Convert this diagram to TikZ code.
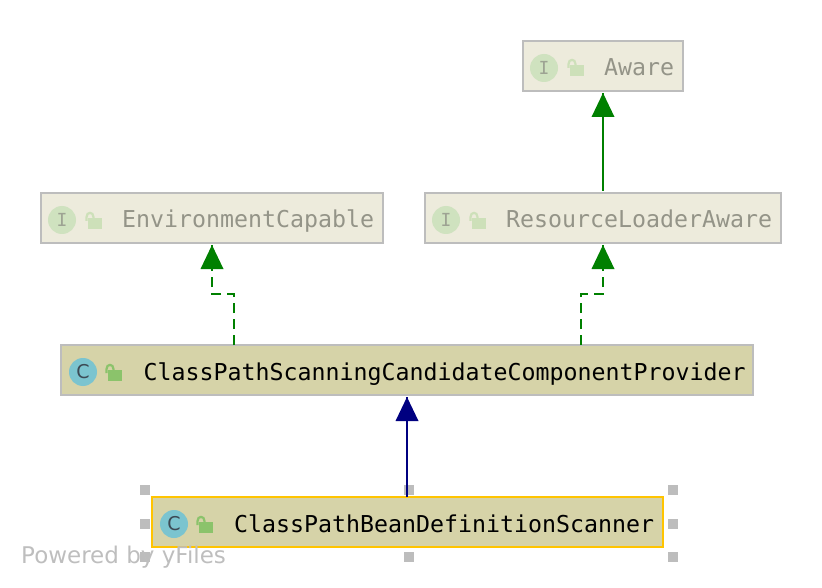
\documentclass[tikz,border=0pt]{standalone}
\usepackage{fontspec}
\setmonofont{DejaVu Sans Mono}
\setsansfont{DejaVu Sans}
\usetikzlibrary{calc}
\definecolor{ifill}{HTML}{EDEBDC}
\definecolor{cfill}{HTML}{D6D3A8}
\definecolor{bord}{HTML}{BDBDBD}
\definecolor{itext}{HTML}{949488}
\definecolor{icirc}{HTML}{CFE2BF}
\definecolor{iletter}{HTML}{9DA393}
\definecolor{ilock}{HTML}{CDE0B9}
\definecolor{ccirc}{HTML}{7BC4CF}
\definecolor{cletter}{HTML}{3C4A55}
\definecolor{clock}{HTML}{8BC36B}
\definecolor{sel}{HTML}{FFC400}
\definecolor{inh}{HTML}{008000}
\definecolor{ext}{HTML}{000080}
\definecolor{handlec}{HTML}{BDBDBD}
\definecolor{wm}{HTML}{BEBEBE}
\tikzset{
  x=1pt,y=-1pt,
  boxbase/.style={draw=bord,line width=2pt,minimum height=50pt,inner sep=0pt,anchor=north west},
  ibox/.style={boxbase,fill=ifill},
  cbox/.style={boxbase,fill=cfill},
  selbox/.style={cbox,draw=sel},
  txt/.style={anchor=base west,inner sep=0pt,font=\ttfamily\fontsize{23.25}{24}\selectfont},
  itxt/.style={txt,text=itext},
  ctxt/.style={txt,text=black},
  iicon/.style={circle,fill=icirc,minimum size=28pt,inner sep=0pt,text=iletter,font=\ttfamily\fontsize{18}{18}\selectfont},
  cicon/.style={circle,fill=ccirc,minimum size=28pt,inner sep=0pt,text=cletter,font=\sffamily\fontsize{19}{19}\selectfont},
  handle/.style={fill=handlec,minimum size=10pt,inner sep=0pt,draw=none},
  tri/.pic={\fill[pic actions] (0,0) -- (-11.5,24) -- (11.5,24) -- cycle;},
  solidg/.style={draw=inh,line width=2.4pt},
  dashg/.style={draw=inh,line width=2.4pt,dash pattern=on 10pt off 6pt},
  solidb/.style={draw=ext,line width=2.4pt},
  lockpic/.pic={
    \fill[pic actions] (0,0) rectangle (13,10);
    \draw[line width=2.2pt,pic actions,fill=none] (-1.5,3) -- (-1.5,-1) .. controls (-1.5,-6.5) and (5.5,-6.5) .. (5.5,-1) -- (5.5,1);
  }
}
\begin{document}
\begin{tikzpicture}
\useasboundingbox (0,0) rectangle (822,588);
% handles
\foreach \hx/\hy/\hn in {144.5/489.5/a,408.5/489.5/b,672.5/489.5/c,144.5/523.5/d,672.5/523.5/e,144.5/556.5/f,408.5/556.5/g,672.5/556.5/h}
  \node[handle] (h\hn) at (\hx,\hy) {};
% boxes
\node[ibox,minimum width=160pt] (aware) at (522,40) {};
\node[ibox,minimum width=342pt] (env) at (40,192) {};
\node[ibox,minimum width=356pt] (rla) at (424,192) {};
\node[cbox,minimum width=692pt] (cps) at (60,344) {};
\node[selbox,minimum width=511pt] (bean) at (151,496) {};
% labels
\node[itxt] (awareT) at (604,76) {Aware};
\node[itxt] (envT) at (122,228) {EnvironmentCapable};
\node[itxt] (rlaT) at (506,228) {ResourceLoaderAware};
\node[ctxt] (cpsT) at (143.5,380) {ClassPathScanningCandidateComponentProvider};
\node[ctxt] (beanT) at (234,532) {ClassPathBeanDefinitionScanner};
% icons
\node[iicon] (awareI) at (544,68) {I};
\node[iicon] (envI) at (62,220) {I};
\node[iicon] (rlaI) at (446,220) {I};
\node[cicon] (cpsI) at (83,372) {C};
\node[cicon] (beanI) at (174,524) {C};
\pic[fill=ilock,draw=ilock] at (570,65) {lockpic};
\pic[fill=ilock,draw=ilock] at (88,218) {lockpic};
\pic[fill=ilock,draw=ilock] at (472,218) {lockpic};
\pic[fill=clock,draw=clock] at (108,370) {lockpic};
\pic[fill=clock,draw=clock] at (199,522) {lockpic};
% connectors
\coordinate (e1) at (234,345);
\coordinate (e2) at (581,345);
\coordinate (t1) at (212,245);
\coordinate (t2) at (603,245);
\coordinate (t3) at (603,93);
\coordinate (t4) at (407,397);
\draw[solidg] (603,191) -- (t3);
\draw[dashg] (e1) -- (234,294) -- (212,294) -- (t1);
\draw[dashg] (e2) -- (581,294) -- (603,294) -- (t2);
\draw[solidb] (407,497) -- (t4);
\pic[fill=inh] at (t3) {tri};
\pic[fill=inh] at (t1) {tri};
\pic[fill=inh] at (t2) {tri};
\pic[fill=ext] at (t4) {tri};
% watermark
\node[anchor=base west,inner sep=0pt,text=wm,font=\sffamily\fontsize{23}{24}\selectfont] (wmark) at (21,563) {Powered by yFiles};
\end{tikzpicture}
\end{document}
